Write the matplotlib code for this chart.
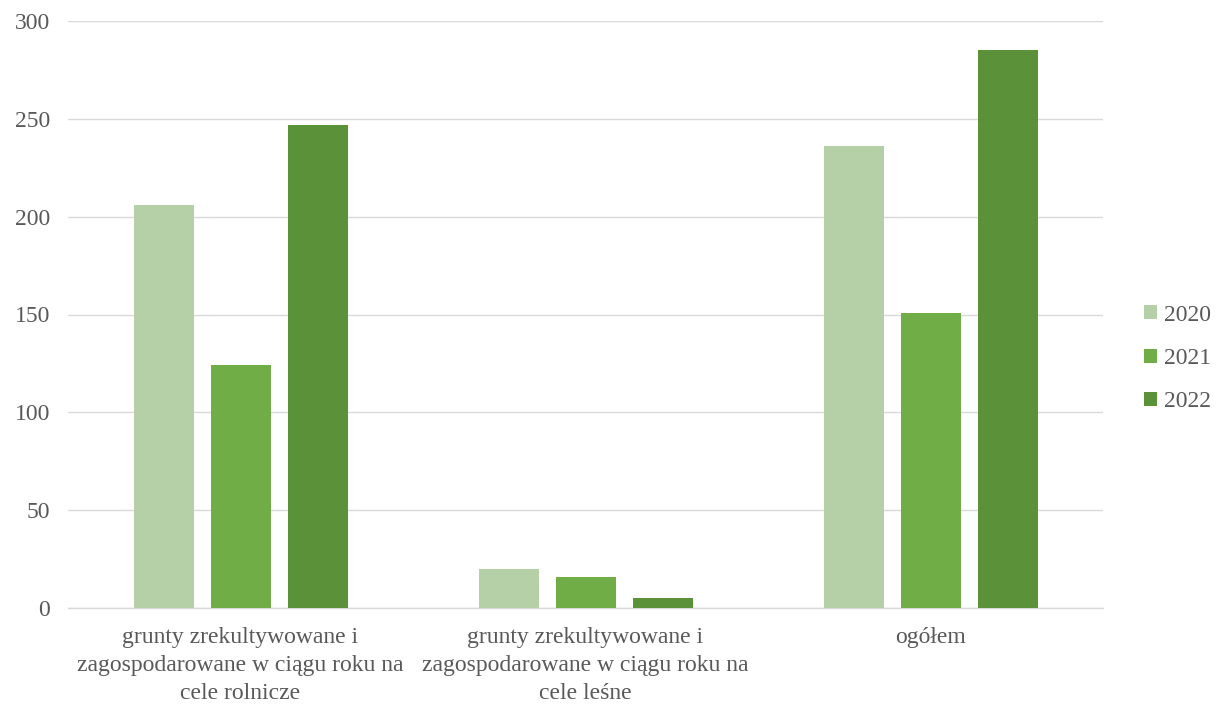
import matplotlib
matplotlib.use("Agg")
import matplotlib.pyplot as plt
import numpy as np

categories = ["grunty zrekultywowane i\nzagospodarowane w ciągu roku na\ncele rolnicze",
              "grunty zrekultywowane i\nzagospodarowane w ciągu roku na\ncele leśne",
              "ogółem"]
years = ["2020", "2021", "2022"]
v2020 = [206, 20, 236]
v2021 = [124, 16, 151]
v2022 = [247, 5, 285]
colors = ["#B5CFA7", "#70AD47", "#5B9138"]

plt.rcParams['font.family'] = ['Liberation Serif', 'DejaVu Serif']
fig = plt.figure(figsize=(12.25, 7.04), dpi=100)
ax = fig.add_axes([68/1225, 1-608/704, (1103-68)/1225, (608-21)/704])

x = np.arange(len(categories))
w = 60/345
step = 77/345
for i, (vals, c, lab) in enumerate(zip([v2020, v2021, v2022], colors, years)):
    ax.bar(x + (i-1)*step, vals, width=w, color=c, label=lab, zorder=3)

ax.set_xlim(-0.5, 2.5)
ax.set_ylim(0, 300)
ax.set_yticks(range(0, 301, 50))
ax.yaxis.grid(True, color="#D9D9D9", linewidth=1.0, zorder=0)
for s in ["top", "right", "left"]:
    ax.spines[s].set_visible(False)
ax.spines["bottom"].set_color("#D9D9D9")
ax.spines["bottom"].set_linewidth(1.0)
ax.tick_params(axis="both", length=0, labelsize=17, colors="#595959")
ax.tick_params(axis="y", pad=13)
ax.tick_params(axis="x", pad=14)
ax.set_xticks(x)
ax.set_xticklabels(categories, linespacing=1.42)

leg = ax.legend(loc="center left", bbox_to_anchor=(1.019, 0.425), frameon=False,
                fontsize=17, handlelength=0.55, handleheight=0.55, handletextpad=0.3,
                labelspacing=0.95, labelcolor="#595959")
fig.savefig("out.png", dpi=100)
